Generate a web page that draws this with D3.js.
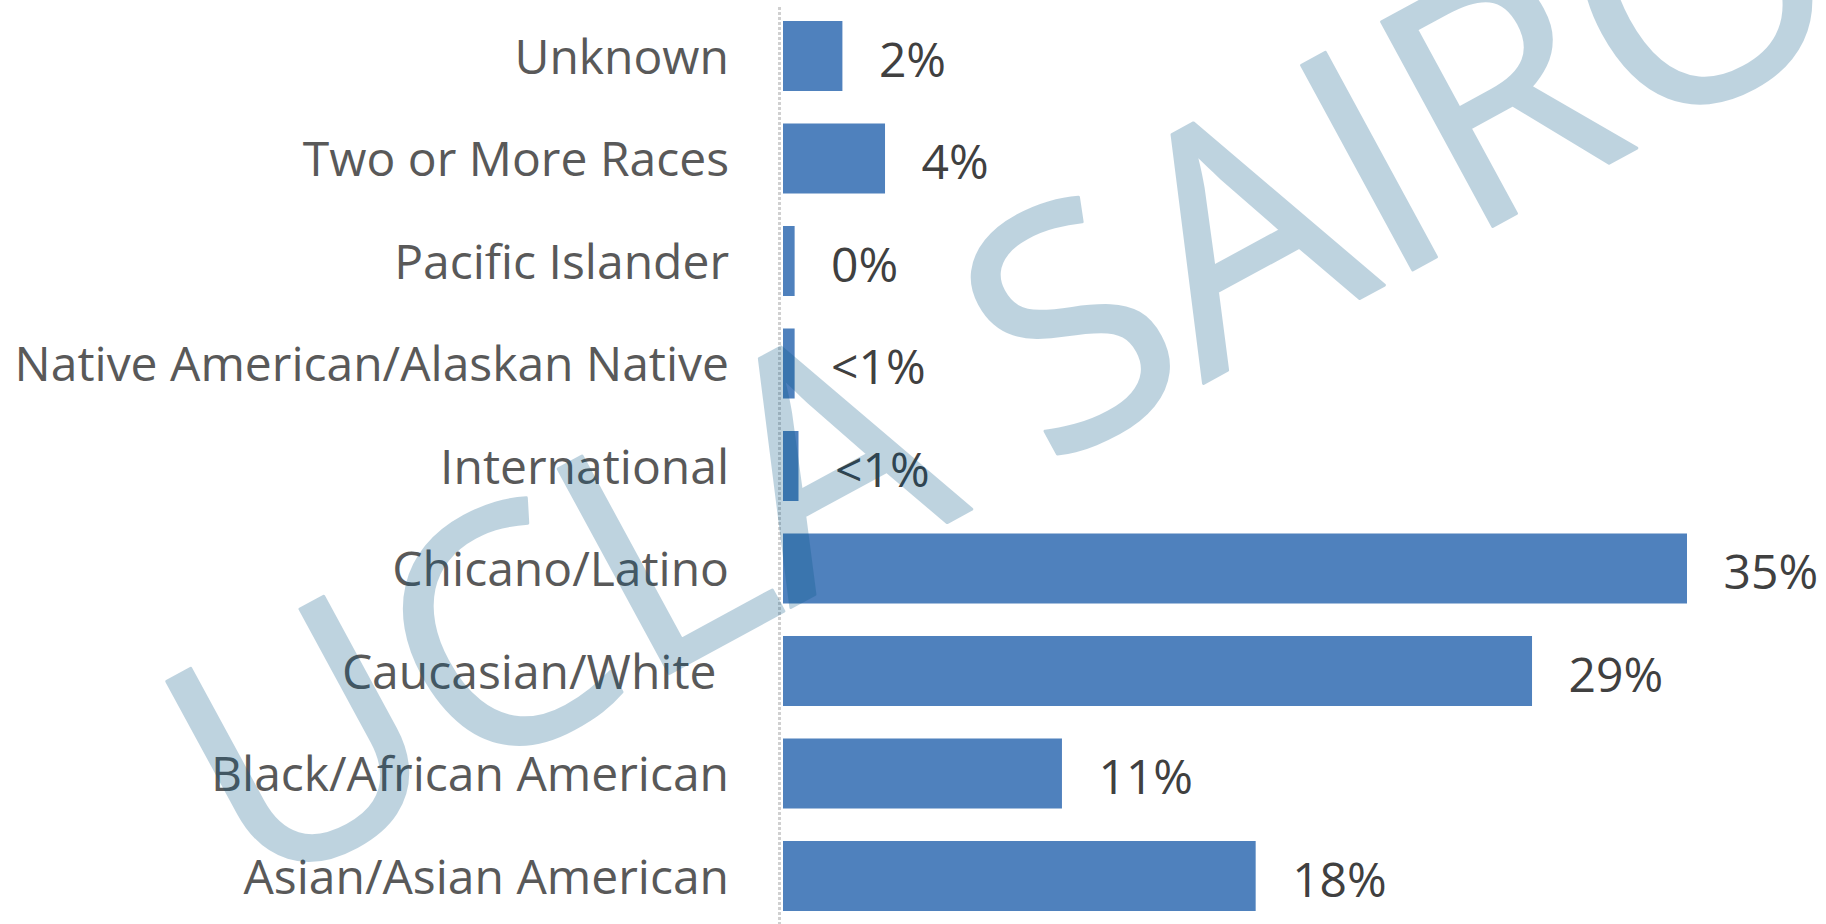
<!DOCTYPE html>
<html>
<head>
<meta charset="utf-8">
<script src="https://cdn.jsdelivr.net/npm/d3@7"></script>
<style>
  html, body { margin: 0; padding: 0; background: #fff; }
  svg { display: block; }
  text { white-space: pre; }
</style>
</head>
<body>
<div id="chart"></div>
<script>
// ── Data ────────────────────────────────────────────────────────────────────
const categories = [
  'Unknown',
  'Two or More Races',
  'Pacific Islander',
  'Native American/Alaskan Native',
  'International',
  'Chicano/Latino',
  'Caucasian/White ',
  'Black/African American',
  'Asian/Asian American'
];
// bar lengths (percent)
const values = [2.3, 3.95, 0.45, 0.45, 0.6, 35, 29, 10.8, 18.3];
// data labels as printed on the chart
const valueLabels = ['2%', '4%', '0%', '<1%', '<1%', '35%', '29%', '11%', '18%'];
const watermark = 'UCLA SAIRO';

// ── Layout ──────────────────────────────────────────────────────────────────
const W = 1826, H = 924;
const axisX = 783;

const svg = d3.select('#chart').append('svg')
  .attr('width', W)
  .attr('height', H);

const x = d3.scaleLinear()
  .domain([0, 35])
  .range([axisX, axisX + 904]);

const y = d3.scaleBand()
  .domain(categories)
  .range([4.75, 927.25])
  .paddingInner(0.317)
  .paddingOuter(0.1585);

const rows = categories.map((c, i) => ({ cat: c, value: values[i], label: valueLabels[i] }));

// ── Bars ────────────────────────────────────────────────────────────────────
svg.append('g')
  .selectAll('rect')
  .data(rows)
  .enter().append('rect')
  .attr('x', x(0))
  .attr('y', d => y(d.cat))
  .attr('width', d => x(d.value) - x(0))
  .attr('height', y.bandwidth())
  .attr('fill', '#4f81bd');

// ── Category axis ───────────────────────────────────────────────────────────
svg.append('line')
  .attr('x1', axisX - 3.5).attr('x2', axisX - 3.5)
  .attr('y1', 7).attr('y2', H)
  .attr('stroke', '#d0d0d0')
  .attr('stroke-width', 3)
  .attr('stroke-dasharray', '3 2');

svg.append('g')
  .selectAll('text')
  .data(rows)
  .enter().append('text')
  .attr('x', 729)
  .attr('y', d => y(d.cat) + y.bandwidth() / 2 + 17.5)
  .attr('text-anchor', 'end')
  .attr('font-family', '"Open Sans", sans-serif')
  .attr('font-size', 48)
  .attr('fill', '#595959')
  .text(d => d.cat);

// ── Data labels ─────────────────────────────────────────────────────────────
svg.append('g')
  .selectAll('text')
  .data(rows)
  .enter().append('text')
  .attr('x', d => x(d.value) + 36.5)
  .attr('y', d => y(d.cat) + y.bandwidth() / 2 + 20.5)
  .attr('font-family', '"Open Sans", sans-serif')
  .attr('font-size', 48)
  .attr('fill', '#404040')
  .text(d => d.label);

// ── Watermark ───────────────────────────────────────────────────────────────
svg.append('g')
  .attr('opacity', 0.25)
  .append('text')
  .attr('transform', 'translate(252,900) rotate(-28.5)')
  .attr('font-family', '"Open Sans", sans-serif')
  .attr('font-size', 326)
  .attr('fill', '#005384')
  .attr('stroke', '#005384')
  .attr('stroke-width', 3)
  .attr('stroke-linejoin', 'round')
  .text(watermark);
</script>
</body>
</html>
